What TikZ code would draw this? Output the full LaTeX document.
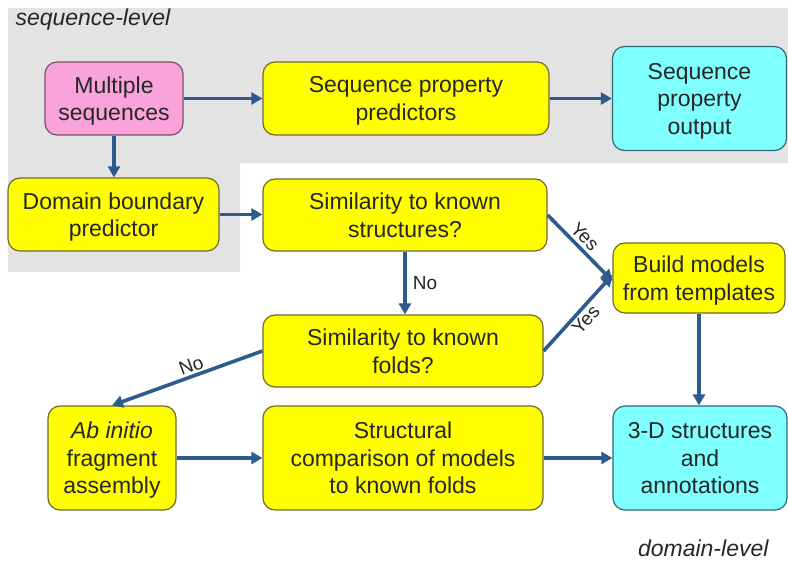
\documentclass[tikz,border=0pt]{standalone}
\usepackage{fontspec}
\setmainfont{Liberation Sans}
\usetikzlibrary{arrows.meta}
\definecolor{bgray}{HTML}{E3E3E3}
\definecolor{ylw}{HTML}{FFFF00}
\definecolor{ylwb}{HTML}{6E6A30}
\definecolor{cyn}{HTML}{80FFFF}
\definecolor{cynb}{HTML}{2F6878}
\definecolor{pnk}{HTML}{F9A3DA}
\definecolor{pnkb}{HTML}{7A5068}
\definecolor{arr}{HTML}{2E5A8E}
\tikzset{
  box/.style={rectangle, rounded corners=12pt, line width=1.2pt, align=center, inner sep=2pt,
    font=\fontsize{23}{27.5}\selectfont, text=black!85, text depth=0pt},
  ybox/.style={box, fill=ylw, draw=ylwb},
  cbox/.style={box, fill=cyn, draw=cynb},
  pbox/.style={box, fill=pnk, draw=pnkb},
  flow/.style={draw=arr, line width=3.6pt, -{Triangle[length=11pt,width=12pt]}},
  lbl/.style={font=\fontsize{19}{22}\selectfont, text=black!85, inner sep=1pt},
  region/.style={font=\itshape\fontsize{23}{27}\selectfont, text=black!85}
}
\begin{document}
\begin{tikzpicture}[x=1pt,y=-1pt]
\useasboundingbox (0,0) rectangle (788,561);
\fill[white] (0,0) rectangle (788,561);
\fill[bgray] (8,8) -- (788,8) -- (788,163) -- (240,163) -- (240,272) -- (8,272) -- cycle;

\node[region, anchor=west] (sl) at (12,20) {sequence-level};
\node[region, anchor=east] (dl) at (772,548) {domain-level};

\node[pbox, minimum width=138pt, minimum height=73pt] (ms) at (114,98.5) {Multiple\\sequences};
\node[ybox, minimum width=286pt, minimum height=73pt] (spp) at (406,98.5) {Sequence property\\predictors};
\node[cbox, minimum width=174pt, minimum height=104pt] (spo) at (699.5,98.5) {Sequence\\property\\output};
\node[ybox, minimum width=211pt, minimum height=73pt] (dbp) at (113.5,214.5) {Domain boundary\\predictor};
\node[ybox, minimum width=284pt, minimum height=72pt] (sks) at (405,215) {Similarity to known\\structures?};
\node[ybox, minimum width=172pt, minimum height=70pt] (bmt) at (699,278) {Build models\\from templates};
\node[ybox, minimum width=280pt, minimum height=72pt] (skf) at (403,351) {Similarity to known\\folds?};
\node[ybox, minimum width=128pt, minimum height=104pt] (abi) at (112,458) {\textit{Ab initio}\\fragment\\assembly};
\node[ybox, minimum width=280pt, minimum height=104pt] (scm) at (403,458) {Structural\\comparison of models\\to known folds};
\node[cbox, minimum width=174pt, minimum height=104pt] (ds3) at (700,458) {3-D structures\\and\\annotations};

\draw[flow] (ms.east) -- (spp.west);
\draw[flow] (spp.east) -- (spo.west);
\draw[flow] (ms.south) -- (ms.south |- dbp.north);
\draw[flow] (dbp.east) -- (sks.west |- dbp.east);
\draw[flow] (sks.south) -- (sks.south |- skf.north) node[lbl, midway, right=5pt] {No};
\draw[flow] (sks.east) -- ([yshift=-3pt]bmt.west) node[lbl, pos=0.45, sloped, above=2pt] {Yes};
\draw[flow] (skf.east) -- ([yshift=3pt]bmt.west) node[lbl, pos=0.5, sloped, below=1pt] {Yes};
\draw[flow] (skf.west) -- (abi.north) node[lbl, pos=0.45, sloped, above=1pt] {No};
\draw[flow] (abi.east) -- (scm.west);
\draw[flow] (scm.east) -- (ds3.west);
\draw[flow] (bmt.south) -- (bmt.south |- ds3.north);
\end{tikzpicture}
\end{document}
